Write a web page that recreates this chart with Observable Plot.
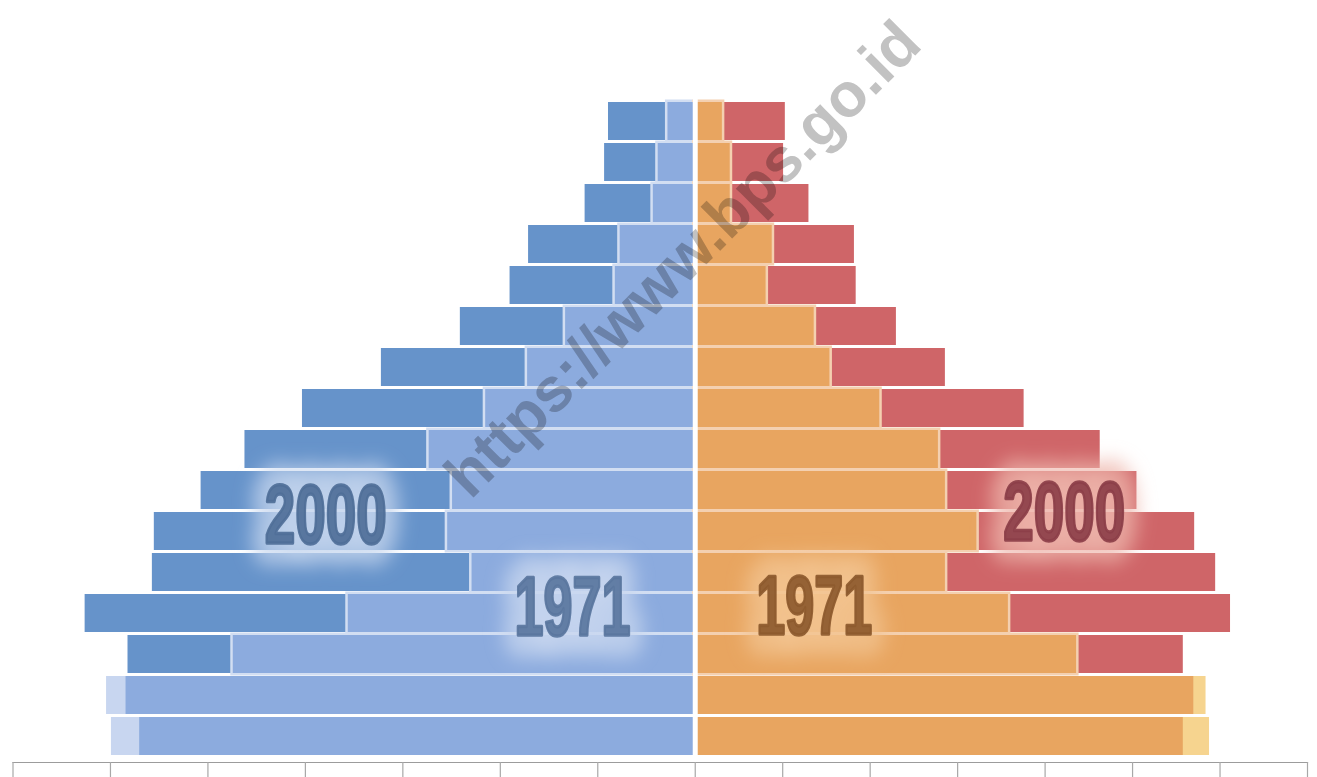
<!DOCTYPE html>
<html>
<head>
<meta charset="utf-8">
<script src="https://cdn.jsdelivr.net/npm/d3@7"></script>
<script src="https://cdn.jsdelivr.net/npm/@observablehq/plot@0.6"></script>
<style>
  html, body { margin: 0; padding: 0; background: #ffffff; }
  #chart svg { display: block; }
</style>
</head>
<body>
<div id="chart"></div>
<script>
// Age groups, oldest at the top
const ageGroups = ["75+","70-74","65-69","60-64","55-59","50-54","45-49","40-44","35-39","30-34","25-29","20-24","15-19","10-14","5-9","0-4"];
// Values in axis-tick units (left: males, right: females)
const male2000   = [0.89,0.93,1.13,1.71,1.90,2.41,3.22,4.03,4.62,5.07,5.55,5.57,6.26,5.82,5.84,5.70];
const male1971   = [0.28,0.38,0.43,0.77,0.82,1.33,1.72,2.15,2.73,2.49,2.54,2.29,3.56,4.74,6.04,5.99];
const female2000 = [1.03,1.01,1.30,1.82,1.84,2.30,2.86,3.76,4.63,5.05,5.71,5.95,6.12,5.58,5.70,5.58];
const female1971 = [0.31,0.40,0.40,0.88,0.81,1.36,1.54,2.11,2.78,2.86,3.22,2.86,3.58,4.36,5.84,5.88];
const tickValues = [-7,-6,-5,-4,-3,-2,-1,0,1,2,3,4,5,6,7];
const yearLabels = ["2000","1971"];
const watermark = "https://www.bps.go.id";

// the male half of the axis uses wider tick spacing than the female half
const leftStretch = 97.5 / 87.5;

const rows = ageGroups.flatMap((age, i) => [
  {age, side: "L", sign: -1, v2000: male2000[i], v1971: male1971[i]},
  {age, side: "R", sign: 1, v2000: female2000[i], v1971: female1971[i]}
]);

const COL = {
  L: {y2000: "#6693ca", y1971: "#c8d6f0", both: "#8cabde", halo: "#d2def2"},
  R: {y2000: "#cf6568", y1971: "#f6d48f", both: "#e8a560", halo: "#f4d0b0"}
};

function layer(side, value, fill, extra = {}, keep = () => true) {
  return Plot.barX(rows.filter(d => d.side === side && keep(d)), {
    y: "age", x1: d => 0, x2: d => d.sign * value(d), fill, ...extra
  });
}
const grew = d => d.v1971 < d.v2000;
const shrank = d => d.v1971 >= d.v2000;

const labelFont = `"Liberation Sans",Arial,Helvetica,sans-serif`;
function yearLabel(text, x, age, dy, fill, glow) {
  const base = {x: () => x, y: () => age, dy, text: d => d, fontSize: 84, fontWeight: "bold", fontFamily: labelFont};
  return [
    Plot.text([text], {...base, fill: glow, stroke: glow, strokeWidth: 46, strokeLinejoin: "round", strokeOpacity: 0.7, fillOpacity: 0.7}),
    Plot.text([text], {...base, fill, stroke: fill, strokeWidth: 3.5, strokeLinejoin: "round", fillOpacity: 0.92, strokeOpacity: 0.92})
  ];
}

const plot = Plot.plot({
  width: 1317,
  height: 777,
  marginTop: 94,
  marginBottom: 15,
  marginLeft: 12.5,
  marginRight: 10,
  x: {type: "linear", transform: v => v < 0 ? v * leftStretch : v, domain: [-7 * leftStretch, 7], axis: null},
  y: {domain: ageGroups, padding: 0.08, axis: null},
  marks: [
    // 2000 (full)
    layer("L", d => d.v2000, COL.L.y2000),
    layer("R", d => d.v2000, COL.R.y2000),
    // 1971 (full); light halo where 2000 extends beyond it
    layer("L", d => d.v1971, COL.L.y1971, {stroke: COL.L.halo, strokeWidth: 5}, grew),
    layer("R", d => d.v1971, COL.R.y1971, {stroke: COL.R.halo, strokeWidth: 5}, grew),
    layer("L", d => d.v1971, COL.L.y1971, {}, shrank),
    layer("R", d => d.v1971, COL.R.y1971, {}, shrank),
    // overlap of both years
    layer("L", d => Math.min(d.v2000, d.v1971), COL.L.both),
    layer("R", d => Math.min(d.v2000, d.v1971), COL.R.both),
    // centre divider
    Plot.ruleX([0], {stroke: "#ffffff", strokeWidth: 5}),
    // axis
    Plot.frame({anchor: "bottom", stroke: "#9c9c9c", strokeWidth: 1.2}),
    Plot.axisX(tickValues, {anchor: "bottom", tickSize: 17, tickFormat: () => "", stroke: "#a8a8a8", strokeWidth: 1.2}),
    // year labels
    ...yearLabel(yearLabels[0], -3.79, "25-29", -15, "#4f6f98", "#c6d5ee"),
    ...yearLabel(yearLabels[0], 4.22, "25-29", -18, "#8c3f49", "#eeb7ad"),
    ...yearLabel(yearLabels[1], -1.26, "15-19", -5, "#5a769e", "#c9d7ef"),
    ...yearLabel(yearLabels[1], 1.36, "15-19", -6, "#8d5a2e", "#f2c592"),
    // watermark
    Plot.text([watermark], {x: () => 0, y: () => "60-64", dx: -12, dy: 15, text: d => d, rotate: -45,
      fontSize: 62, fontWeight: "bold", fontFamily: `"Liberation Sans",Arial,sans-serif`,
      fill: "#c2c2c2", mixBlendMode: "multiply"})
  ]
});

document.getElementById("chart").appendChild(plot);

// post-process: condense the year labels and blur their glow
const svg = d3.select(plot);
const defs = svg.insert("defs", ":first-child");
defs.append("filter").attr("id", "glowBlur").attr("x", "-50%").attr("y", "-50%").attr("width", "200%").attr("height", "200%")
  .append("feGaussianBlur").attr("stdDeviation", 9);
svg.selectAll("text").each(function() {
  const t = this.textContent;
  if (t !== "2000" && t !== "1971") return;
  const w = this.getBBox().width;
  const target = t === "2000" ? 122 : 116;
  const k = w > 0 ? target / w : 1;
  const tr = this.getAttribute("transform") || "";
  this.setAttribute("transform", tr + ` scale(${k},1)`);
  const g = this.parentNode;
  if (g.getAttribute("stroke-width") === "46") g.setAttribute("filter", "url(#glowBlur)");
});
</script>
</body>
</html>
